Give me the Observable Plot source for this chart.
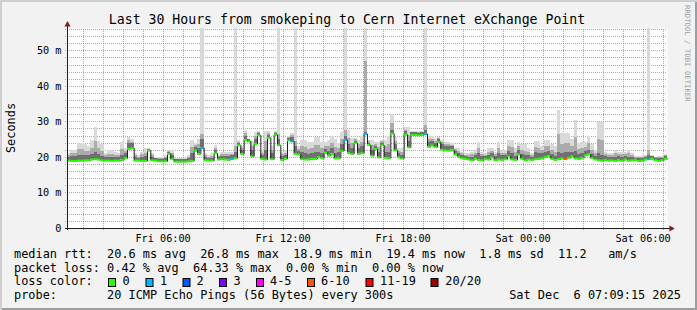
<!DOCTYPE html>
<html><head><meta charset="utf-8">
<script src="https://cdn.jsdelivr.net/npm/d3@7"></script>
<script src="https://cdn.jsdelivr.net/npm/@observablehq/plot@0.6"></script>
<style>
html,body{margin:0;padding:0;background:#fff;}
#chart{position:relative;width:697px;height:310px;background:#f2f2f2;box-shadow:inset 2px 2px 0 #cfcfcf, inset -2px -2px 0 #9e9e9e;overflow:hidden;}
#chart svg{position:absolute;left:0;top:0;}
</style></head><body><div id="chart"></div>
<script>
// ---- data (milliseconds, one value every 10 minutes from Fri 01:13:15) ----
const medianMs = [
19.1,19.0,19.0,19.1,19.1,19.2, 19.2,19.4,19.5,19.4,19.2,19.1, 19.1,19.0,19.1,19.1,19.3,19.8,
22.4,22.6,19.1,19.1,19.0,19.0, 21.9,19.2,19.1,18.9,18.9,18.9, 21.0,19.5,18.8,18.8,18.8,18.8,
18.9,19.0,21.9,21.0,22.7,19.2, 19.1,19.1,21.1,19.4,19.5,19.4, 19.3,19.6,19.8,23.4,21.0,24.9,
24.5,20.3,23.8,26.2,19.6,19.4, 25.5,19.5,26.3,23.4,19.3,19.6, 24.8,24.5,21.0,20.8,19.5,19.4,
19.4,19.6,19.6,20.1,19.8,21.3, 20.5,21.0,19.7,19.8,21.8,24.9, 21.3,21.0,24.0,21.0,21.2,26.6,
23.5,20.5,22.4,20.0,23.4,19.9, 19.8,26.7,22.0,20.0,19.7,26.4, 22.8,26.3,26.3,26.2,26.3,26.6,
23.0,23.4,22.9,24.3,22.2,22.0, 21.9,22.1,20.8,20.1,19.8,19.6, 19.4,19.2,19.6,19.3,19.2,19.5,
19.4,20.0,19.2,19.4,19.3,19.5, 20.3,19.4,19.3,20.8,19.6,19.2, 19.4,19.3,19.5,19.6,19.8,20.1,
20.4,19.6,19.3,19.5,19.8,19.6, 19.9,20.3,19.7,19.6,19.9,20.6, 20.9,19.8,19.4,19.2,19.1,19.3,
19.1,19.2,19.0,19.3,19.1,19.4, 19.1,19.2,19.3,19.0,19.1,19.4, 19.5,19.6,19.2,19.0,19.2,19.6
];
// dark smoke top
const smokeMidMs = [
20.0,20.3,20.3,20.6,20.6,20.5, 20.4,20.8,21.5,20.8,20.3,19.9, 20.0,20.0,19.9,19.9,20.6,21.0,
24.0,23.8,20.0,19.8,20.0,20.2, 22.3,20.0,19.6,19.5,19.5,19.6, 21.5,20.5,19.3,19.3,19.3,19.3,
19.6,21.0,22.8,22.5,25.0,20.0, 19.7,19.8,22.0,20.0,20.3,20.2, 20.2,20.4,21.5,24.0,22.0,26.0,
24.9,22.0,25.0,26.8,20.6,22.0, 26.2,21.0,26.8,25.0,20.3,20.6, 25.3,25.6,23.0,21.8,21.5,21.2,
20.8,21.0,21.5,21.5,21.0,22.2, 21.8,22.5,21.2,21.5,23.5,26.0, 23.5,22.5,24.5,22.5,23.0,27.0,
24.0,22.0,23.2,21.5,24.0,21.5, 21.5,27.5,23.5,21.0,20.6,27.2, 24.5,26.9,26.9,26.8,26.9,27.5,
24.2,24.5,24.0,25.0,23.5,23.0, 23.0,23.0,21.8,21.2,20.6,20.3, 20.1,20.0,20.5,21.0,20.2,20.2,
20.6,21.0,20.2,21.2,20.5,20.5, 21.8,21.0,20.3,22.0,20.8,20.5, 20.5,20.0,21.3,21.2,21.0,21.5,
21.6,20.8,20.3,21.5,21.2,21.5, 21.5,21.5,21.8,20.8,21.0,21.8, 22.0,20.8,20.3,21.0,20.5,20.2,
19.9,20.0,20.0,20.2,20.0,20.3, 20.0,19.9,19.8,19.6,19.7,20.0, 20.5,20.2,19.8,19.6,19.8,20.2
];
// medium smoke top
const smokeUpperMs = [
20.5,21.1,21.1,22.1,22.1,21.8, 21.6,22.5,24.5,22.5,21.7,20.4, 20.9,20.9,20.6,20.4,22.2,21.7,
24.7,24.3,20.5,20.1,20.7,21.2, 22.35,20.5,19.8,19.7,19.7,20.0, 21.7,21.2,19.5,19.5,19.5,19.5,
20.0,22.7,23.3,23.6,26.5,20.5, 20.1,20.3,22.6,20.2,20.8,20.8, 20.8,20.9,23.0,24.3,22.5,26.7,
24.95,23.1,25.9,27.0,21.2,24.4, 26.7,21.9,27.0,26.5,20.8,21.2, 25.6,26.1,24.5,22.3,23.0,22.8,
22.3,22.4,23.3,23.3,22.4,23.1, 23.1,24.0,22.9,22.6,25.0,27.5, 25.3,23.8,24.9,23.5,24.3,47.0,
24.4,23.3,23.7,22.7,24.4,23.0, 23.5,29.5,24.4,21.7,21.5,27.7, 26.2,27.1,27.1,27.1,27.1,29.0,
25.0,25.1,24.6,25.2,24.1,23.5, 23.5,23.4,22.1,21.7,21.0,20.6, 20.5,20.7,21.2,22.5,20.8,20.6,
21.4,21.6,20.8,22.5,21.2,21.2, 23.1,22.7,21.3,23.0,22.0,21.8, 21.4,20.5,22.7,22.6,21.9,23.0,
23.0,22.0,21.5,26.5,23.6,23.8, 23.8,23.1,25.6,22.2,22.4,22.9, 23.8,22.0,21.1,25.0,24.7,20.8,
20.4,20.5,21.0,20.8,20.7,20.8, 21.0,20.4,20.0,19.9,19.9,20.2, 22.0,20.3,19.9,19.9,20.0,20.5
];
// maximum ping (light smoke top)
const smokeMaxMs = [
21.0,22.0,22.0,24.0,24.0,23.5, 23.0,24.7,28.3,24.6,23.5,21.0, 22.0,22.0,21.5,21.0,24.2,22.5,
25.6,25.0,21.0,20.5,21.5,22.4, 22.4,21.0,20.0,20.0,20.0,20.5, 22.0,22.0,19.8,19.8,19.8,19.8,
20.5,24.7,24.0,25.0,60.0,21.0, 20.5,21.0,23.4,20.5,21.5,21.5, 21.5,21.5,60.0,24.7,23.0,27.5,
25.0,24.5,27.0,27.2,22.0,27.3, 27.3,23.0,27.3,60.0,21.5,22.0, 25.9,26.6,60.0,23.0,24.8,24.8,
24.2,24.2,25.6,25.6,24.2,24.2, 24.8,25.9,25.0,24.0,27.0,60.0, 27.5,25.3,25.3,24.8,25.9,60.0,
24.8,24.8,24.2,24.2,24.8,24.8, 26.0,32.0,25.5,22.5,22.5,28.3, 28.3,27.4,27.4,27.4,27.4,60.0,
25.9,25.9,25.3,25.5,24.8,24.2, 24.2,23.8,22.4,22.4,21.5,21.0, 21.0,21.5,22.0,24.2,21.5,21.0,
22.4,22.4,21.5,24.2,22.0,22.0, 24.8,24.8,22.5,24.2,23.5,23.5, 22.4,21.0,24.4,24.4,23.0,24.8,
24.8,23.5,23.0,33.2,26.7,26.7, 26.7,25.0,30.3,24.0,24.2,24.2, 25.9,23.5,22.0,29.8,29.8,21.5,
21.0,21.0,22.0,21.5,21.5,21.5, 22.0,21.0,20.2,20.2,20.2,20.5, 60.0,20.5,20.0,20.2,20.2,20.8
];
const lossIndex = [40, 49, 67, 83, 89, 107, 149, 174];
const lossCount = [1, 1, 1, 1, 1, 1, 8, 1];
const lossLabels = ["0", "1", "2", "3", "4-5", "6-10", "11-19", "20/20"];
const lossUpper  = [0, 1, 2, 3, 5, 10, 19, 20];
const lossColors = ["#26ff00", "#00b8ff", "#0059ff", "#7e00ff", "#ff00ff", "#ff5500", "#ff0000", "#a10000"];
const yTicks = [0, 10, 20, 30, 40, 50];
const titleText = "Last 30 Hours from smokeping to Cern Internet eXchange Point";
const legendLines = [
  "median rtt:  20.6 ms avg  26.8 ms max  18.9 ms min  19.4 ms now  1.8 ms sd  11.2   am/s",
  "packet loss: 0.42 % avg  64.33 % max  0.00 % min  0.00 % now",
  "loss color:",
  "probe:       20 ICMP Echo Pings (56 Bytes) every 300s"
];
const stampText = "Sat Dec  6 07:09:15 2025";

// ---- build ----
const H = 3600e3, step = 600e3;
const start = new Date(Date.UTC(2025, 11, 5, 1, 13, 15));
const end = new Date(+start + 30 * H);
const yMax = 56.27;
function lossColor(c) { for (let k = 0; k < lossUpper.length; k++) if (c <= lossUpper[k]) return lossColors[k]; return lossColors[lossColors.length - 1]; }
const data = medianMs.map((m, i) => {
  const li = lossIndex.indexOf(i);
  return {t: new Date(+start + i * step), t2: new Date(+start + (i + 1) * step), median: m,
          mid: smokeMidMs[i], upper: smokeUpperMs[i], max: smokeMaxMs[i], color: lossColor(li >= 0 ? lossCount[li] : 0)};
});
const lineData = data.concat([{t: end, median: medianMs[medianMs.length - 1]}]);
const hours = d3.utcHour.range(start, end);
const majorHours = hours.filter(d => d.getUTCHours() % 3 === 0);
const minorHours = hours.filter(d => d.getUTCHours() % 3 !== 0);
const labelHours = d3.utcHour.every(6).range(start, end);
const majorY = [10, 20, 30, 40, 50];
const minorY = d3.range(2, 57, 2).filter(v => v % 10 !== 0);
const leftTick = new Date(+start - 6 * 60e3);
const below = -0.6;
const gridMinor = {stroke: "rgba(143,143,143,0.75)", strokeDasharray: "1,1", shapeRendering: "crispEdges"};
const gridMajor = {stroke: "rgba(222,79,79,0.6)", strokeDasharray: "1,1", shapeRendering: "crispEdges"};
const smokeOpts = {x1: "t", x2: "t2", y1: "median", inset: 0, shapeRendering: "crispEdges", clip: true};

const plot = Plot.plot({
  width: 697, height: 310,
  marginLeft: 67, marginRight: 30, marginTop: 28, marginBottom: 82,
  style: {background: "transparent", fontFamily: "DejaVu Sans Mono", fontSize: "10.2px", color: "#000"},
  x: {type: "utc", domain: [start, end]},
  y: {domain: [0, yMax]},
  color: {type: "identity"},
  marks: [
    Plot.frame({fill: "#fff", stroke: "none"}),
    Plot.ruleY(minorY, {x1: leftTick, x2: end, ...gridMinor}),
    Plot.ruleY(majorY, {x1: leftTick, x2: end, ...gridMajor}),
    Plot.ruleX(minorHours, {y1: below, y2: yMax, ...gridMinor}),
    Plot.ruleX(majorHours, {y1: below, y2: yMax, ...gridMajor}),
    Plot.rect(data, {...smokeOpts, y2: "max", fill: "#d9d9d9"}),
    Plot.rect(data, {...smokeOpts, y2: "upper", fill: "#ababab"}),
    Plot.rect(data, {...smokeOpts, y2: "mid", fill: "#707070"}),
    Plot.line(lineData, {x: "t", y: "median", curve: "step-after", stroke: "#202020", strokeWidth: 1}),
    Plot.ruleY(data, {x1: "t", x2: "t2", y: "median", stroke: "color", strokeWidth: 2}),
    Plot.ruleY([0], {x1: leftTick, x2: new Date(+end + 8 * 60e3), stroke: "#1f1f1f", shapeRendering: "crispEdges"}),
    Plot.ruleX([start], {y1: below, y2: yMax + 1.0, stroke: "#1f1f1f", shapeRendering: "crispEdges"}),
    Plot.dot([{x: new Date(+end + 11 * 60e3), y: 0}], {x: "x", y: "y", symbol: "triangle", r: 2.3, fill: "#801f1f", stroke: "none", rotate: 90}),
    Plot.dot([{x: start, y: yMax + 1.1}], {x: "x", y: "y", symbol: "triangle", r: 2.3, fill: "#801f1f", stroke: "none"}),
    Plot.axisX(labelHours, {tickSize: 0, tickPadding: 6, tickFormat: d3.utcFormat("%a %H:%M"), fill: "#000"}),
    Plot.axisY(yTicks, {tickSize: 0, tickPadding: 6, tickFormat: d => d === 0 ? "0" : d + " m", fill: "#000"})
  ]
});
const chart = document.getElementById("chart");
chart.appendChild(plot);

// ---- texts around the plot ----
const svg = d3.create("svg").attr("width", 697).attr("height", 310)
  .style("pointer-events", "none").style("font-family", "DejaVu Sans Mono");
svg.append("text").attr("x", 347).attr("y", 23.5).attr("text-anchor", "middle")
  .style("font-size", "13.2px").text(titleText);
svg.append("text").attr("transform", "translate(15,128) rotate(-90)").attr("text-anchor", "middle")
  .style("font-size", "11.9px").text("Seconds");
svg.append("text").attr("transform", "translate(685,5) rotate(90)")
  .style("font-size", "7.3px").style("fill", "#a0a0a0").text("RRDTOOL / TOBI OETIKER");
const baselines = [258.3, 271.8, 285.3, 298.8];
legendLines.forEach((s, k) => {
  svg.append("text").attr("x", 14).attr("y", baselines[k]).style("font-size", "11.9px")
    .style("white-space", "pre").attr("xml:space", "preserve").text(s);
});
svg.append("text").attr("x", 681).attr("y", baselines[3]).attr("text-anchor", "end")
  .style("font-size", "11.9px").style("white-space", "pre").attr("xml:space", "preserve").text(stampText);
const boxX = [108, 145.5, 182.5, 219, 256, 307, 365.5, 430.5];
const labX = [122.5, 160, 196.5, 233.5, 270, 321, 380, 445.3];
lossLabels.forEach((lab, k) => {
  svg.append("rect").attr("x", boxX[k] + 0.5).attr("y", 278.5).attr("width", 7).attr("height", 8)
    .attr("fill", lossColors[k]).attr("stroke", "#000").attr("stroke-width", 1);
  svg.append("text").attr("x", labX[k]).attr("y", baselines[2]).style("font-size", "11.9px").text(lab);
});
chart.appendChild(svg.node());
</script></body></html>
